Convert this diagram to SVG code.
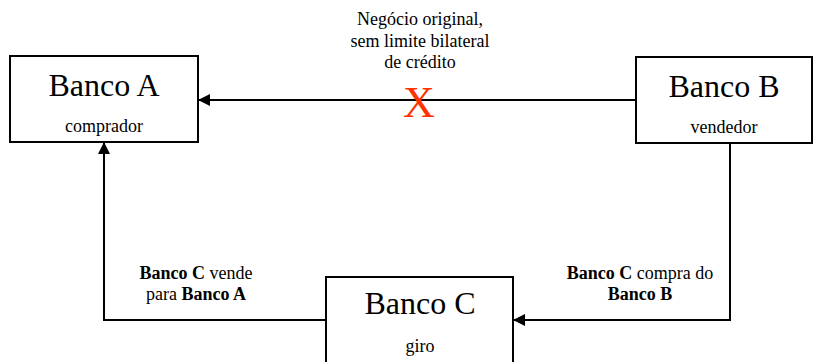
<svg xmlns="http://www.w3.org/2000/svg" width="814" height="362" viewBox="0 0 814 362">
<style>
.box{fill:#fff;stroke:#000;stroke-width:2}
.t{font-family:"Liberation Serif","Times New Roman",serif;fill:#000;text-anchor:middle}
.big{font-size:32px}
.sm{font-size:18px}
.ln{fill:none;stroke:#000;stroke-width:2}
</style>
<defs>
<marker id="ah" markerWidth="12" markerHeight="12" refX="11" refY="6" orient="auto" markerUnits="userSpaceOnUse">
<path d="M0,0 L12,6 L0,12 Z" fill="#000"/>
</marker>
</defs>
<g id="connectors">
<line class="ln" x1="636" y1="100" x2="199" y2="100" marker-end="url(#ah)"/>
<polyline class="ln" points="326,320 104,320 104,143" marker-end="url(#ah)"/>
<polyline class="ln" points="730,143 730,320 514,320" marker-end="url(#ah)"/>
</g>
<g id="bancoA">
<rect class="box" x="10" y="56" width="188" height="86"/>
<text class="t big" x="104" y="96">Banco A</text>
<text class="t sm" x="104" y="132">comprador</text>
</g>
<g id="bancoB">
<rect class="box" x="636" y="57" width="176" height="86"/>
<text class="t big" x="724" y="97">Banco B</text>
<text class="t sm" x="724" y="133">vendedor</text>
</g>
<g id="bancoC">
<rect class="box" x="326" y="277" width="187" height="90"/>
<text class="t big" x="420" y="314">Banco C</text>
<text class="t sm" x="420" y="352">giro</text>
</g>
<g id="labels">
<text class="t sm" x="420" y="25">Negócio original,</text>
<text class="t sm" x="420" y="47">sem limite bilateral</text>
<text class="t sm" x="420" y="68">de crédito</text>
<text class="t" x="419" y="117" style="font-size:44px;fill:#ff3300">X</text>
<text class="t sm" x="196" y="279"><tspan font-weight="bold">Banco C</tspan> vende</text>
<text class="t sm" x="196" y="300">para <tspan font-weight="bold">Banco A</tspan></text>
<text class="t sm" x="640" y="279"><tspan font-weight="bold">Banco C</tspan> compra do</text>
<text class="t sm" x="640" y="300" font-weight="bold">Banco B</text>
</g>
</svg>
